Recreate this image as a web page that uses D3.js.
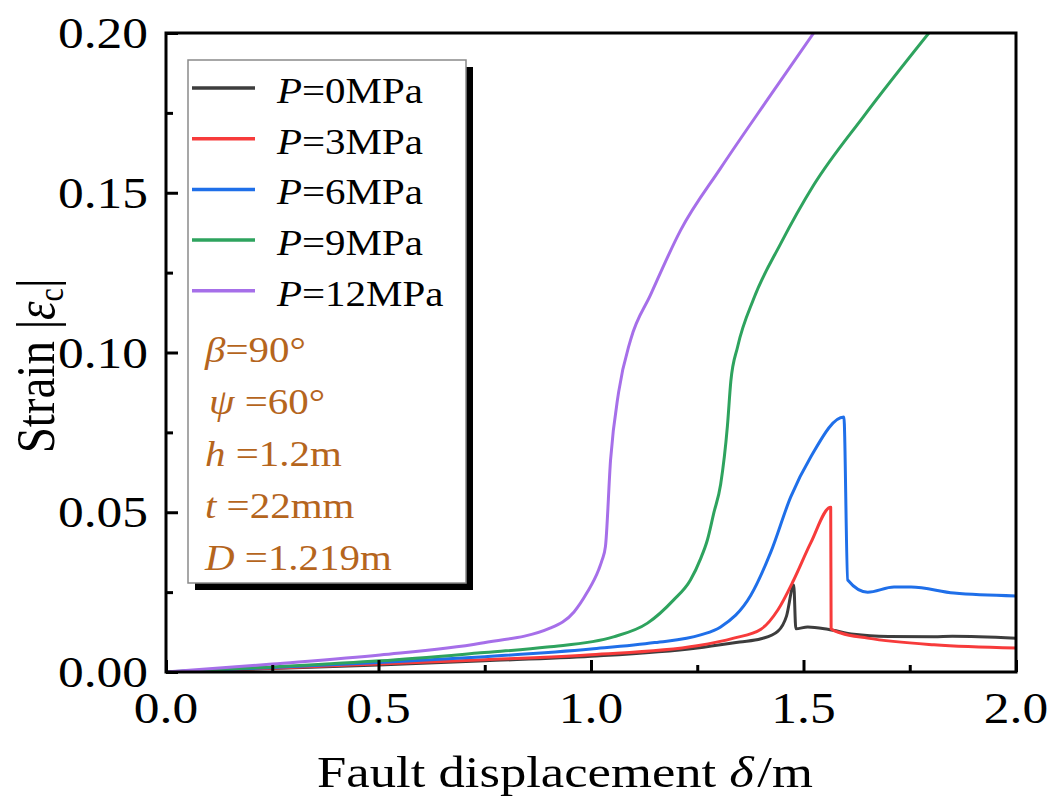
<!DOCTYPE html>
<html>
<head>
<meta charset="utf-8">
<script src="https://cdn.jsdelivr.net/npm/d3@7"></script>
<style>
  html, body { margin: 0; padding: 0; background: #fff; }
  svg { display: block; font-family: "Liberation Serif", "Times New Roman", serif; }
</style>
</head>
<body>
<svg id="chart" width="1051" height="798"></svg>
<script>
// Strain |εc| against fault displacement δ for five internal pressures
const seriesNames = ["P=0MPa", "P=3MPa", "P=6MPa", "P=9MPa", "P=12MPa"];
const seriesPressure = ["0", "3", "6", "9", "12"];
const seriesColors = ["#3d3d3d", "#f73b3b", "#1f6fe9", "#2ea35e", "#a66fe9"];

// [displacement (m), strain]
const strainP0 = [[0,0],[0.25,0.0011],[0.5,0.0022],[0.75,0.0035],[1.0,0.0049],[1.25,0.0075],[1.35,0.0094],[1.40,0.0104],[1.44,0.0128],[1.46,0.0175],[1.477,0.0272],[1.482,0.0135],[1.51,0.0141],[1.557,0.0134],[1.618,0.0118],[1.70,0.0111],[1.807,0.0110],[1.85,0.0112],[2.0,0.0106]];
const strainP3 = [[0,0],[0.25,0.0012],[0.5,0.0025],[0.75,0.0038],[1.0,0.0054],[1.25,0.0082],[1.336,0.0106],[1.40,0.0134],[1.44,0.0195],[1.477,0.0288],[1.517,0.0404],[1.564,0.0516],[1.565,0.0135],[1.588,0.0122],[1.651,0.0106],[1.807,0.0085],[2.0,0.0075]];
const strainP6 = [[0,0],[0.25,0.0014],[0.5,0.0030],[0.75,0.0048],[1.0,0.0072],[1.15,0.0092],[1.258,0.0116],[1.305,0.0141],[1.376,0.0240],[1.423,0.0375],[1.470,0.0548],[1.517,0.0673],[1.595,0.0798],[1.604,0.0288],[1.651,0.0250],[1.713,0.0266],[1.753,0.0266],[1.854,0.0247],[2.0,0.0238]];
const strainP9 = [[0,0],[0.25,0.0016],[0.504,0.0035],[0.74,0.0060],[0.897,0.0078],[1.053,0.0110],[1.133,0.0153],[1.194,0.0225],[1.234,0.0288],[1.258,0.0355],[1.274,0.0414],[1.289,0.0498],[1.305,0.0587],[1.321,0.0770],[1.329,0.0910],[1.345,0.1018],[1.383,0.1169],[1.446,0.1340],[1.524,0.1524],[1.642,0.1740],[1.795,0.2000]];
const strainP12 = [[0,0],[0.25,0.0025],[0.504,0.0053],[0.74,0.0090],[0.905,0.0138],[0.96,0.0188],[0.99,0.0247],[1.018,0.0320],[1.026,0.0350],[1.034,0.0393],[1.046,0.0663],[1.065,0.0876],[1.093,0.1039],[1.140,0.1180],[1.211,0.1383],[1.305,0.1577],[1.416,0.1793],[1.524,0.2000]];
const seriesData = [strainP0, strainP3, strainP6, strainP9, strainP12];

const xTicks = [0.0, 0.5, 1.0, 1.5, 2.0];
const xMinorTicks = [0.25, 0.75, 1.25, 1.75];
const yTicks = [0.00, 0.05, 0.10, 0.15, 0.20];
const yMinorTicks = [0.025, 0.075, 0.125, 0.175];

// Geometry
const svg = d3.select("#chart");
const plot = { left: 166, top: 33, right: 1016, bottom: 672 };
const stretch = 1.17;   // wide serif lettering

const x = d3.scaleLinear().domain([0, 2]).range([plot.left, plot.right]);
const y = d3.scaleLinear().domain([0, 0.2]).range([plot.bottom, plot.top]);

// Clip to plot frame
svg.append("defs").append("clipPath").attr("id", "plotClip")
  .append("rect")
  .attr("x", plot.left).attr("y", plot.top)
  .attr("width", plot.right - plot.left).attr("height", plot.bottom - plot.top);

// Curves
const line = d3.line().x(d => x(d[0])).y(d => y(d[1])).curve(d3.curveMonotoneX);
const curves = svg.append("g").attr("clip-path", "url(#plotClip)");
seriesData.forEach((data, i) => {
  curves.append("path")
    .datum(data)
    .attr("d", line)
    .attr("fill", "none")
    .attr("stroke", seriesColors[i])
    .attr("stroke-width", 3)
    .attr("stroke-linejoin", "round");
});

// Axes with inward ticks
const axisStyle = g => {
  g.select(".domain").remove();
  g.selectAll(".tick line").attr("stroke", "#000").attr("stroke-width", 3);
  g.selectAll(".tick text").remove();
};
svg.append("g").attr("transform", `translate(0,${plot.bottom})`)
  .call(d3.axisBottom(x).tickValues(xTicks).tickSize(-12)).call(axisStyle);
svg.append("g").attr("transform", `translate(0,${plot.bottom})`)
  .call(d3.axisBottom(x).tickValues(xMinorTicks).tickSize(-7)).call(axisStyle);
svg.append("g").attr("transform", `translate(${plot.left},0)`)
  .call(d3.axisLeft(y).tickValues(yTicks).tickSize(-12)).call(axisStyle);
svg.append("g").attr("transform", `translate(${plot.left},0)`)
  .call(d3.axisLeft(y).tickValues(yMinorTicks).tickSize(-7)).call(axisStyle);

// Frame
svg.append("rect")
  .attr("x", plot.left).attr("y", plot.top)
  .attr("width", plot.right - plot.left).attr("height", plot.bottom - plot.top)
  .attr("fill", "none").attr("stroke", "#000").attr("stroke-width", 3);

// Tick labels
svg.append("g").selectAll("text").data(xTicks).join("text")
  .attr("transform", d => `translate(${x(d)},723) scale(${stretch},1)`)
  .attr("text-anchor", "middle")
  .attr("font-size", 44)
  .text(d => d3.format(".1f")(d));
svg.append("g").selectAll("text").data(yTicks).join("text")
  .attr("transform", d => `translate(148,${y(d) + 15}) scale(${stretch},1)`)
  .attr("text-anchor", "end")
  .attr("font-size", 44)
  .text(d => d3.format(".2f")(d));

// Axis titles
const xTitle = svg.append("text")
  .attr("transform", `translate(565,787) scale(${stretch},1)`)
  .attr("text-anchor", "middle")
  .attr("font-size", 45);
xTitle.append("tspan").text("Fault displacement ");
xTitle.append("tspan").attr("font-style", "italic").text("δ");
xTitle.append("tspan").attr("dx", 3).text("/m");

const yTitle = svg.append("text")
  .attr("transform", `translate(54,366) scale(${stretch},1) rotate(-90)`)
  .attr("text-anchor", "middle")
  .attr("font-size", 47);
yTitle.append("tspan").text("Strain |");
yTitle.append("tspan").attr("font-style", "italic").text("ε");
yTitle.append("tspan").attr("font-size", 30).attr("dy", 8).text("c");
yTitle.append("tspan").attr("dy", -8).text("|");

// Legend box with drop shadow
const box = { x: 188, y: 60, w: 278, h: 523, shadow: 7 };
svg.append("rect")
  .attr("x", box.x + box.shadow).attr("y", box.y + box.shadow)
  .attr("width", box.w).attr("height", box.h)
  .attr("fill", "#000");
svg.append("rect")
  .attr("x", box.x).attr("y", box.y)
  .attr("width", box.w).attr("height", box.h)
  .attr("fill", "#fff").attr("stroke", "#8a8a8a").attr("stroke-width", 1.5);

const legend = svg.append("g");
seriesNames.forEach((name, i) => {
  const base = 103 + 50.7 * i;
  legend.append("line")
    .attr("x1", 192).attr("x2", 255)
    .attr("y1", base - 15).attr("y2", base - 15)
    .attr("stroke", seriesColors[i]).attr("stroke-width", 3.5);
  const t = legend.append("text")
    .attr("transform", `translate(277,${base}) scale(${stretch},1)`)
    .attr("font-size", 35);
  t.append("tspan").attr("font-style", "italic").text("P");
  t.append("tspan").text("=" + seriesPressure[i] + "MPa");
});

// Pipe and fault parameters
const paramSymbols = ["β", "ψ", "h", "t", "D"];
const paramValues = ["=90°", " =60°", " =1.2m", " =22mm", " =1.219m"];
const params = svg.append("g").attr("fill", "#b5651d");
paramSymbols.forEach((sym, i) => {
  const t = params.append("text")
    .attr("transform", `translate(${i === 1 ? 209 : 205},${362 + 52 * i}) scale(${stretch},1)`)
    .attr("font-size", 35);
  t.append("tspan").attr("font-style", "italic").text(sym);
  t.append("tspan").text(paramValues[i]);
});
</script>
</body>
</html>
